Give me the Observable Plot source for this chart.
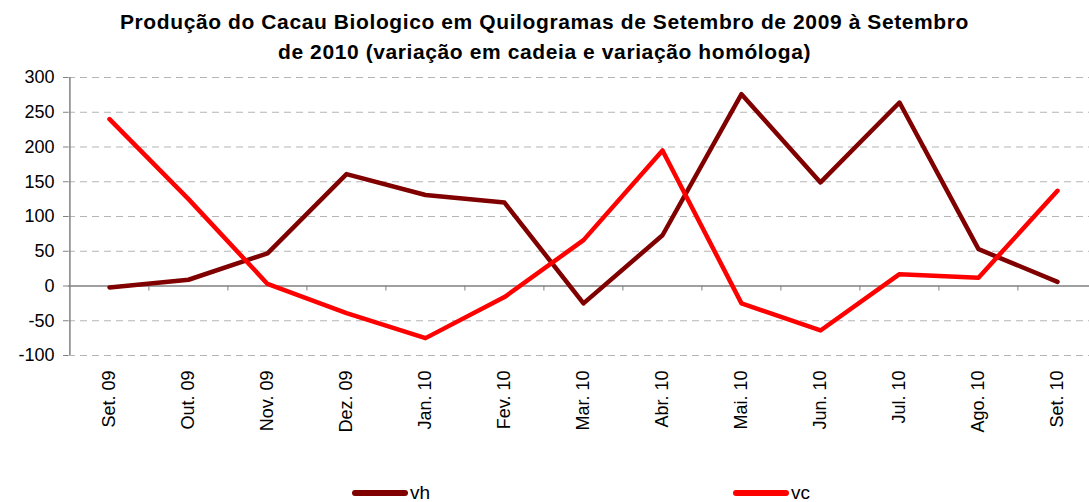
<!DOCTYPE html>
<html>
<head>
<meta charset="utf-8">
<script src="https://cdn.jsdelivr.net/npm/d3@7"></script>
<script src="https://cdn.jsdelivr.net/npm/@observablehq/plot@0.6"></script>
<style>
  html, body { margin: 0; padding: 0; background: #fff; overflow: hidden; }
  #wrap { position: relative; width: 1089px; height: 502px; font-family: "Liberation Sans", Arial, sans-serif; }
  #title { position: absolute; left: 0; top: 7px; width: 1089px; text-align: center; font-weight: bold; font-size: 21px; letter-spacing: 0.6px; line-height: 30px; color: #000; }
  #chart { position: absolute; left: 0; top: 0; }
  .leg { position: absolute; top: 482px; font-size: 19px; color: #000; display: flex; align-items: center; }
  .sw { display: inline-block; width: 56px; height: 6px; border-radius: 3px; margin-right: 2px; }
</style>
</head>
<body>
<div id="wrap">
  <div id="chart"></div>
  <div id="title">Produção do Cacau Biologico em Quilogramas de Setembro de 2009 à Setembro<br>de 2010 (variação em cadeia e variação homóloga)</div>
  <div class="leg" style="left:352px"><span class="sw" style="background:#800000"></span>vh</div>
  <div class="leg" style="left:733px"><span class="sw" style="background:#ff0000"></span>vc</div>
</div>
<script>
const categories = ["Set. 09","Out. 09","Nov. 09","Dez. 09","Jan. 10","Fev. 10","Mar. 10","Abr. 10","Mai. 10","Jun. 10","Jul. 10","Ago. 10","Set. 10"];
const vh = [-2, 9, 47, 161, 131, 120, -25, 73, 276, 149, 264, 53, 6];
const vc = [240, 125, 3, -39, -75, -16, 66, 195, -25, -64, 17, 12, 137];
const yTicks = [-100, -50, 0, 50, 100, 150, 200, 250, 300];

const vhData = categories.map((c, i) => ({cat: c, value: vh[i]}));
const vcData = categories.map((c, i) => ({cat: c, value: vc[i]}));

const x0 = 68, x1 = 1097.6;
const step = (x1 - x0) / categories.length;

const chart = Plot.plot({
  width: 1089,
  height: 502,
  marginLeft: 68,
  marginRight: 0,
  marginTop: 77,
  marginBottom: 147,
  style: {fontFamily: "'Liberation Sans', Arial, sans-serif", fontSize: "18px", background: "transparent", color: "#000"},
  x: {type: "point", domain: categories, range: [x0, x1], padding: 0.5, label: null},
  y: {domain: [-100, 300], label: null},
  marks: [
    Plot.ruleY(yTicks.filter(t => t !== 0), {stroke: "#b4b4b4", strokeDasharray: "7,5", strokeWidth: 1}),
    Plot.ruleY([0], {stroke: "#808080", strokeWidth: 1.5}),
    Plot.ruleX([categories[0]], {x: d => d, y1: -100, y2: 300, dx: -step / 2, stroke: "#808080", strokeWidth: 1.5}),
    Plot.ruleX(categories.slice(1), {x: d => d, y1: 0, y2: -7.2, dx: -step / 2, stroke: "#808080", strokeWidth: 1}),
    Plot.axisY(yTicks, {tickSize: 5, tickPadding: 9, tickFormat: d => String(d), stroke: "#808080", fill: "#000", fontSize: 18}),
    Plot.axisX({tickRotate: -90, tickSize: 0, tickPadding: 15, fill: "#000", fontSize: 18}),
    Plot.line(vhData, {x: "cat", y: "value", stroke: "#800000", strokeWidth: 4.5}),
    Plot.line(vcData, {x: "cat", y: "value", stroke: "#ff0000", strokeWidth: 4.5})
  ]
});
document.getElementById("chart").appendChild(chart);
</script>
</body>
</html>
